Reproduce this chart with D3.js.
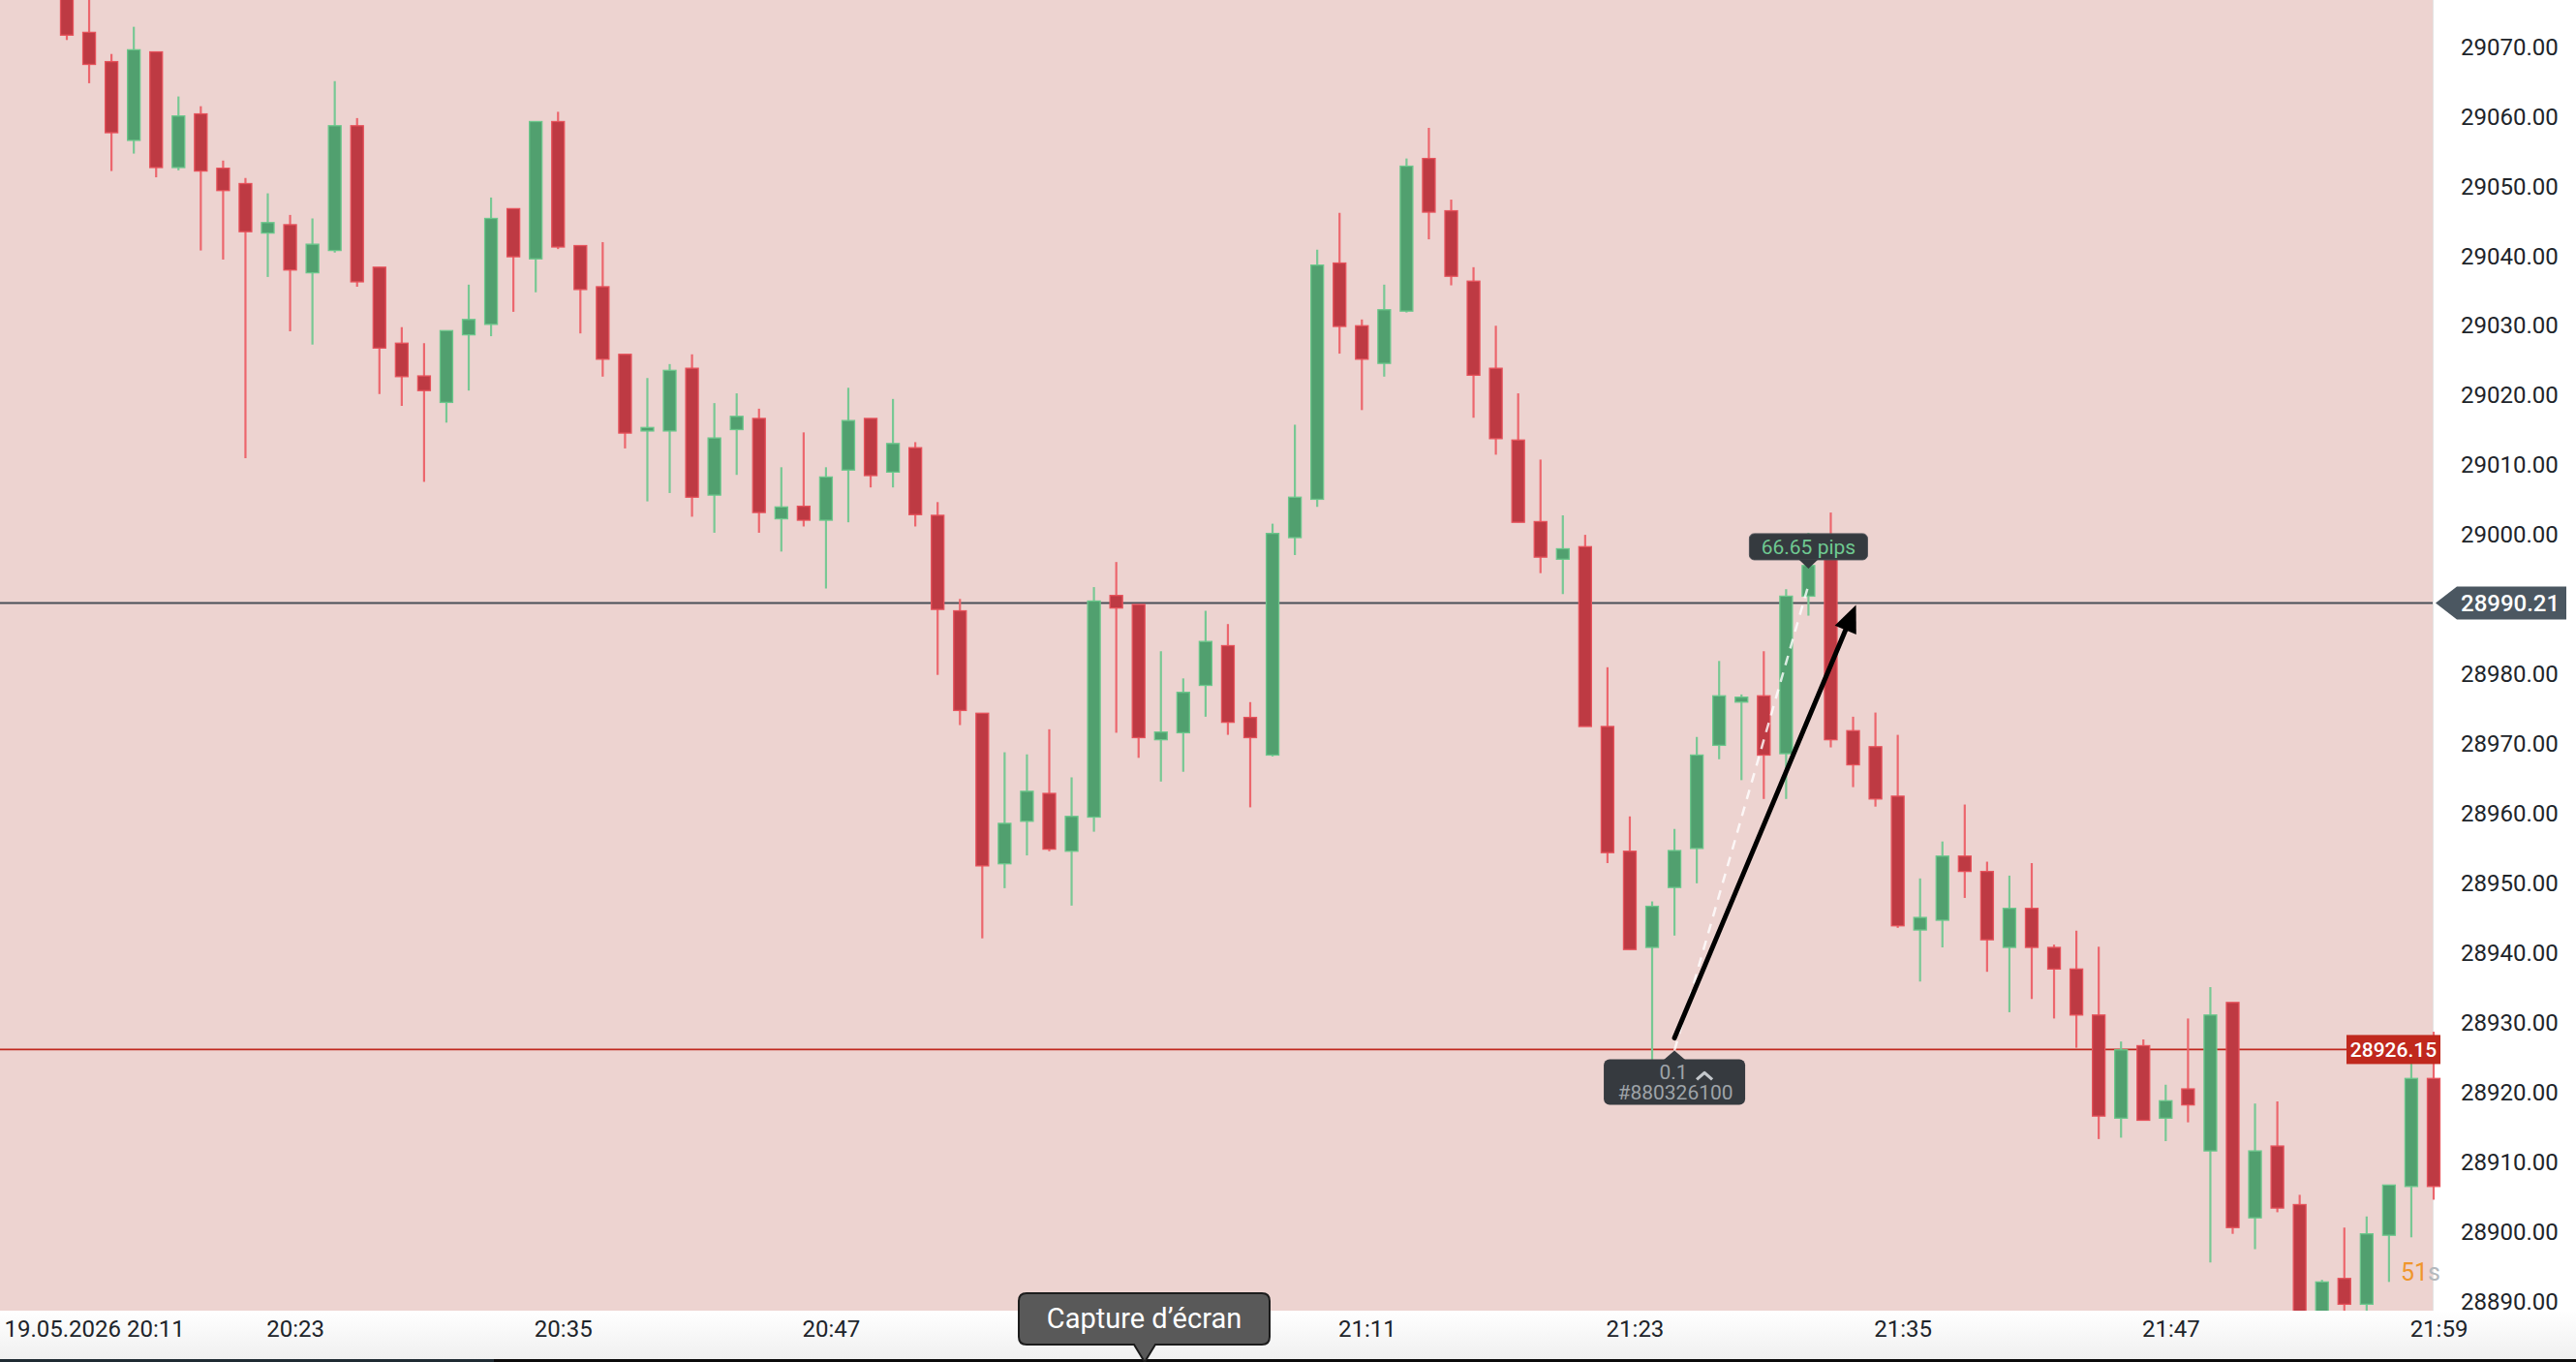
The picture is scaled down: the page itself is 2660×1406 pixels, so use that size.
<!DOCTYPE html>
<html><head><meta charset="utf-8">
<script src="https://cdn.jsdelivr.net/npm/d3@7"></script>
<style>
html,body{margin:0;padding:0;background:#fff;overflow:hidden}
svg{display:block}
text{font-family:Roboto,"Noto Sans",sans-serif}
</style>
</head><body>
<svg id="c" width="2660" height="1406"></svg>
<script>
// ---------------- data ----------------
const times=["20:13","20:14","20:15","20:16","20:17","20:18","20:19","20:20","20:21","20:22",
"20:23","20:24","20:25","20:26","20:27","20:28","20:29","20:30","20:31","20:32",
"20:33","20:34","20:35","20:36","20:37","20:38","20:39","20:40","20:41","20:42",
"20:43","20:44","20:45","20:46","20:47","20:48","20:49","20:50","20:51","20:52",
"20:53","20:54","20:55","20:56","20:57","20:58","20:59","21:00","21:01","21:02",
"21:03","21:04","21:05","21:06","21:07","21:08","21:09","21:10","21:11","21:12",
"21:13","21:14","21:15","21:16","21:17","21:18","21:19","21:20","21:21","21:22",
"21:23","21:24","21:25","21:26","21:27","21:28","21:29","21:30","21:31","21:32",
"21:33","21:34","21:35","21:36","21:37","21:38","21:39","21:40","21:41","21:42",
"21:43","21:44","21:45","21:46","21:47","21:48","21:49","21:50","21:51","21:52",
"21:53","21:54","21:55","21:56","21:57","21:58","21:59"];
const open=[29080,29072.1,29067.9,29056.6,29069.3,29052.7,29060.4,29052.6,29050.4,29043.3,
29044.5,29037.6,29040.8,29058.7,29038.4,29027.5,29022.8,29019.0,29028.7,29030.2,
29046.8,29039.6,29059.3,29041.5,29035.6,29025.9,29014.9,29014.9,29023.9,29005.7,
29015.1,29016.7,29002.3,29004.1,29002.1,29009.3,29016.7,29009.0,29012.5,29002.8,
28989.1,28974.4,28952.8,28958.9,28962.9,28954.6,28959.5,28991.3,28990.0,28970.6,
28971.6,28978.4,28984.1,28973.8,28968.4,28999.6,29005.1,29039.0,29030.0,29024.6,
29032.1,29054.0,29046.5,29036.4,29023.9,29013.6,29001.9,28996.5,28998.3,28972.5,
28954.6,28940.8,28949.4,28955.0,28969.8,28976.0,28976.9,28968.6,28991.2,28999.0,
28971.9,28969.6,28962.5,28943.3,28944.7,28953.9,28951.7,28940.8,28946.4,28940.8,
28937.7,28931.1,28916.3,28926.7,28916.3,28920.5,28911.6,28932.9,28902.0,28912.3,
28903.9,28886,28893.3,28889.6,28899.5,28906.5,28922.0];
const high=[29082,29078,29069.0,29072.9,29069.3,29062.9,29061.5,29053.7,29051.2,29049.0,
29045.9,29045.4,29065.1,29059.8,29038.4,29029.8,29027.5,29029.3,29035.9,29048.4,
29046.8,29059.3,29060.7,29041.5,29042.0,29025.9,29022.5,29024.5,29025.9,29018.9,
29020.3,29018.1,29009.7,29014.7,29009.7,29021.1,29016.7,29019.5,29013.3,29004.7,
28990.8,28974.4,28968.8,28968.5,28972.1,28965.2,28992.5,28996.1,28990.0,28983.3,
28979.4,28989.1,28987.2,28976.0,29001.6,29015.8,29040.9,29046.2,29030.9,29035.9,
29054.0,29058.4,29048.1,29038.4,29030.0,29020.3,29010.8,29002.8,29000.0,28981.0,
28959.6,28947.4,28957.8,28971.0,28981.9,28977.1,28983.3,28992.2,29000.3,29003.2,
28973.9,28974.5,28971.3,28950.7,28956.0,28961.3,28953.1,28951.1,28952.9,28941.2,
28943.2,28940.9,28927.3,28927.6,28921.1,28930.6,28935.1,28932.9,28918.4,28918.7,
28905.3,28893.1,28900.6,28902.2,28906.7,28927.0,28928.7];
const low=[29071.0,29064.8,29052.2,29054.7,29051.3,29052.3,29040.8,29039.5,29011.0,29037.0,
29029.2,29027.3,29040.5,29035.6,29020.2,29018.5,29007.6,29016.1,29020.7,29028.5,
29032.0,29034.8,29041.0,29028.9,29022.7,29012.4,29004.8,29006.0,29002.6,29000.3,
29008.6,29000.3,28997.6,29001.2,28992.3,29001.8,29006.8,29006.8,29001.2,28979.9,
28972.7,28942.1,28949.3,28954.0,28954.6,28946.8,28957.4,28971.6,28968.0,28964.6,
28966.0,28973.9,28971.3,28960.9,28968.2,28997.1,29004.0,29026.0,29017.9,29022.7,
29031.9,29042.4,29035.8,29016.8,29011.5,29001.8,28994.5,28991.5,28972.5,28952.9,
28940.5,28924.7,28942.5,28950.0,28967.8,28964.8,28962.1,28962.1,28988.4,28969.5,
28963.8,28961.0,28943.6,28935.9,28940.8,28947.9,28937.3,28931.5,28933.4,28930.6,
28926.4,28913.3,28913.5,28916.0,28913.0,28915.7,28895.6,28899.7,28897.5,28902.8,
28883,28884,28886,28887,28892.8,28899.2,28904.6];
const close=[29071.7,29067.5,29057.7,29069.6,29052.7,29060.1,29052.2,29049.4,29043.5,29044.8,
29038.0,29041.7,29058.7,29036.3,29026.8,29022.7,29020.7,29029.3,29030.9,29045.4,
29039.9,29059.3,29041.3,29035.2,29025.2,29014.6,29015.4,29023.6,29005.4,29013.9,
29017.0,29003.2,29004.0,29002.1,29008.3,29016.4,29008.5,29013.1,29002.9,28989.3,
28974.8,28952.5,28958.6,28963.2,28954.9,28959.6,28990.5,28989.5,28970.9,28971.7,
28977.4,28984.7,28973.1,28970.9,29000.2,29005.4,29038.7,29029.9,29025.2,29032.3,
29052.9,29046.3,29037.1,29022.9,29013.8,29001.8,28996.8,28998.0,28972.5,28954.4,
28940.5,28946.7,28954.7,28968.4,28976.9,28976.7,28968.4,28991.2,28995.6,28970.6,
28967.0,28962.1,28943.9,28945.1,28953.9,28951.7,28941.9,28946.4,28940.8,28937.7,
28931.1,28916.6,28926.1,28916.0,28918.8,28918.2,28931.1,28900.6,28911.6,28903.4,
28885,28892.8,28889.6,28899.7,28906.7,28922.0,28906.5];

const priceTicks=[29070,29060,29050,29040,29030,29020,29010,29000,28990,28980,28970,28960,28950,28940,28930,28920,28910,28900,28890];
const timeTicks=["20:11","20:23","20:35","20:47","21:11","21:23","21:35","21:47","21:59"];
const dateLabel="19.05.2026";
const currentPrice=28990.21;
const positionPrice=28926.15;
const entry={time:"21:25",price:28926.15,volume:"0.1",ticket:"#880326100"};
const target={time:"21:31",price:28992.8,label:"66.65 pips"};
const arrowFrom={time:"21:25",price:28927.8};
const arrowTo={time:"21:33",price:28990.21};
const countdown={value:"51",unit:"s"};
const screenshotTip="Capture d\u2019écran";

// ---------------- layout / scales ----------------
const W=2660,H=1406,plotR=2512,plotB=1353;
const toMin=s=>{const p=s.split(":").map(Number);return p[0]*60+p[1];};
const x=d3.scaleLinear().domain([toMin(times[0]),toMin(times[times.length-1])]).range([69,2513]);
const y=d3.scaleLinear().domain([28890,29070]).range([1343.5,48.5]);

const svg=d3.select("#c");
const defs=svg.append("defs");
defs.append("clipPath").attr("id","plotclip").append("rect").attr("x",0).attr("y",0).attr("width",2540).attr("height",plotB);
const grad=defs.append("linearGradient").attr("id","bandg").attr("x1",0).attr("y1",0).attr("x2",0).attr("y2",1);
grad.append("stop").attr("offset","0%").attr("stop-color","#ffffff");
grad.append("stop").attr("offset","100%").attr("stop-color","#efefef");

// backgrounds
svg.append("rect").attr("x",0).attr("y",0).attr("width",W).attr("height",H).attr("fill","#ffffff");
svg.append("rect").attr("x",0).attr("y",0).attr("width",plotR).attr("height",plotB).attr("fill","#edd3d0");
svg.append("line").attr("x1",plotR+0.5).attr("x2",plotR+0.5).attr("y1",0).attr("y2",plotB).attr("stroke","#e4e4e4").attr("stroke-width",1);

// price axis
const ya=d3.axisRight(y).tickValues(priceTicks).tickFormat(d3.format(".2f")).tickSize(0).tickPadding(0);
const yg=svg.append("g").attr("transform","translate(2541,0)").call(ya);
yg.select(".domain").remove();
yg.selectAll("text").attr("font-size",24).attr("fill","#20242a").attr("font-family","Roboto");

// price lines
svg.append("line").attr("x1",0).attr("x2",plotR).attr("y1",y(currentPrice)).attr("y2",y(currentPrice))
  .attr("stroke","#4a4f57").attr("stroke-width",2);
svg.append("line").attr("x1",0).attr("x2",plotR).attr("y1",y(positionPrice)).attr("y2",y(positionPrice))
  .attr("stroke","#c0281e").attr("stroke-width",1.6);

// candles
const data=times.map((t,i)=>({t,o:open[i],h:high[i],l:low[i],c:close[i]}));
const cg=svg.append("g").attr("clip-path","url(#plotclip)");
const up={body:"#51a06f",border:"#6cc78c",wick:"#78c894"};
const dn={body:"#be3a43",border:"#e6525b",wick:"#ec666d"};
const cand=cg.selectAll("g.cd").data(data).join("g").attr("class","cd");
cand.append("line")
  .attr("x1",d=>x(toMin(d.t))).attr("x2",d=>x(toMin(d.t)))
  .attr("y1",d=>y(d.h)).attr("y2",d=>y(d.l))
  .attr("stroke",d=>d.c>=d.o?up.wick:dn.wick).attr("stroke-width",2.2);
cand.append("rect")
  .attr("x",d=>x(toMin(d.t))-6.5)
  .attr("width",13)
  .attr("y",d=>y(Math.max(d.o,d.c)))
  .attr("height",d=>Math.max(2,y(Math.min(d.o,d.c))-y(Math.max(d.o,d.c))))
  .attr("fill",d=>d.c>=d.o?up.body:dn.body)
  .attr("stroke",d=>d.c>=d.o?up.border:dn.border).attr("stroke-width",1.3);

// ---------------- annotations ----------------
const ex=x(toMin(entry.time)), ey=y(entry.price);
const tx=x(toMin(target.time)), ty=y(target.price);
// dashed measure line
svg.append("line").attr("x1",ex).attr("y1",ey+1).attr("x2",tx).attr("y2",ty)
  .attr("stroke","#ffffff").attr("stroke-opacity",0.8).attr("stroke-width",2.5).attr("stroke-dasharray","10,8");
// black arrow
const ax1=x(toMin(arrowFrom.time)), ay1=y(arrowFrom.price), ax2=x(toMin(arrowTo.time))+3, ay2=y(arrowTo.price)+2;
const dx=ax2-ax1, dy=ay2-ay1, L=Math.hypot(dx,dy), ux=dx/L, uy=dy/L;
const hl=28, hw=12;
const bx=ax2-ux*hl, by=ay2-uy*hl;
svg.append("line").attr("x1",ax1).attr("y1",ay1).attr("x2",bx+ux*4).attr("y2",by+uy*4)
  .attr("stroke","#000").attr("stroke-width",5).attr("stroke-linecap","round");
svg.append("path").attr("d",`M${ax2},${ay2}L${bx-uy*hw},${by+ux*hw}L${bx+uy*hw},${by-ux*hw}Z`).attr("fill","#000");

// pips tooltip
const pw=122, ph=27, pby=ty-26;
const pg=svg.append("g");
pg.append("rect").attr("x",tx-pw/2).attr("y",pby-ph).attr("width",pw).attr("height",ph).attr("rx",5)
  .attr("fill","#353a3f").attr("stroke","#4c5157").attr("stroke-width",1);
pg.append("path").attr("d",`M${tx-10},${pby-0.5}L${tx+10},${pby-0.5}L${tx},${pby+9}Z`).attr("fill","#353a3f");
pg.append("text").attr("x",tx).attr("y",pby-ph/2).attr("dy","0.35em").attr("text-anchor","middle")
  .attr("font-size",21).attr("fill","#6fc991").text(target.label);

// entry box
const eg=svg.append("g");
const bw=146, bh=47, bt=ey+10, bl=ex-73;
eg.append("rect").attr("x",bl).attr("y",bt).attr("width",bw).attr("height",bh).attr("rx",6).attr("fill","#363a3f");
eg.append("path").attr("d",`M${ex-11},${bt+0.5}L${ex+11},${bt+0.5}L${ex},${bt-9}Z`).attr("fill","#363a3f");
eg.append("text").attr("x",ex-1).attr("y",bt+13).attr("dy","0.35em").attr("text-anchor","middle")
  .attr("font-size",21).attr("fill","#9ea3a8").text(entry.volume);
eg.append("path").attr("d",`M${ex+23},${bt+21}L${ex+31},${bt+14}L${ex+39},${bt+21}`)
  .attr("fill","none").attr("stroke","#c4c8cc").attr("stroke-width",3.2).attr("stroke-linejoin","round");
eg.append("text").attr("x",ex+1).attr("y",bt+34).attr("dy","0.35em").attr("text-anchor","middle")
  .attr("font-size",21).attr("fill","#9ea3a8").text(entry.ticket);

// price label boxes
const cy=y(currentPrice);
const lg=svg.append("g");
lg.append("path").attr("d",`M2515,${cy}L2537,${cy-17}L2650,${cy-17}L2650,${cy+17}L2537,${cy+17}Z`).attr("fill","#4b5761");
lg.append("text").attr("x",2541).attr("y",cy).attr("dy","0.35em").attr("font-size",24).attr("font-weight",500)
  .attr("fill","#ffffff").text(d3.format(".2f")(currentPrice));
const py=y(positionPrice);
lg.append("rect").attr("x",2423).attr("y",py-15).attr("width",97).attr("height",30).attr("fill","#c0281d");
lg.append("text").attr("x",2471.5).attr("y",py).attr("dy","0.35em").attr("text-anchor","middle").attr("font-size",21)
  .attr("font-weight",500).attr("fill","#ffffff").text(d3.format(".2f")(positionPrice));

// countdown
const ct=svg.append("text").attr("x",2479).attr("y",1322).attr("font-size",25);
ct.append("tspan").attr("fill","#f0962c").text(countdown.value);
ct.append("tspan").attr("fill","#b4b8bc").text(countdown.unit);

// ---------------- time axis band ----------------
svg.append("rect").attr("x",0).attr("y",plotB).attr("width",W).attr("height",H-plotB).attr("fill","url(#bandg)");
svg.append("rect").attr("x",0).attr("y",1403).attr("width",W).attr("height",3).attr("fill","#0b0b0b");
svg.append("rect").attr("x",0).attr("y",1403).attr("width",510).attr("height",3).attr("fill","#1f2b33");

const xa=d3.axisBottom(x).tickValues(timeTicks.map(toMin)).tickSize(0).tickPadding(0)
  .tickFormat((d,i)=>i===0?dateLabel+" "+timeTicks[0]:timeTicks[i]);
const xg=svg.append("g").attr("transform",`translate(5,${plotB})`).call(xa);
xg.select(".domain").remove();
xg.selectAll("text").attr("y",19).attr("dy","0.35em").attr("font-size",24).attr("fill","#20242a").attr("font-family","Roboto");
xg.selectAll("text").filter((d,i)=>i===0).attr("text-anchor","start").attr("x",-1-x(toMin(timeTicks[0])));

// screenshot tooltip
const sx=1182, sg=svg.append("g");
sg.append("path").attr("d",`M1060,1335 H1303 Q1311,1335 1311,1343 V1380 Q1311,1388 1303,1388 H${sx+11} L${sx},1406 L${sx-11},1388 H1060 Q1052,1388 1052,1380 V1343 Q1052,1335 1060,1335 Z`)
  .attr("fill","#595959").attr("stroke","#1c1c1c").attr("stroke-width",2);
sg.append("text").attr("x",1181.5).attr("y",1361).attr("dy","0.35em").attr("text-anchor","middle")
  .attr("font-size",29).attr("fill","#ffffff").text(screenshotTip);
</script>
</body></html>
